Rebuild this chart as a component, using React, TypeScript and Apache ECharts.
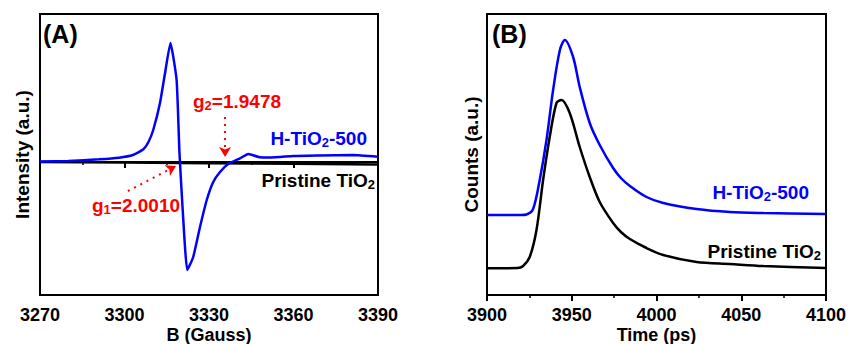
import React, { useEffect, useRef } from "react";
import * as echarts from "echarts";

// Panel A: EPR spectra
const eprField = [3270, 3280, 3291, 3298, 3303, 3306.7, 3308.5, 3310.2, 3312.6, 3314.4, 3316.3, 3318.5, 3319.5, 3320.6, 3322.3, 3324.4, 3326.8, 3329.2, 3331.5, 3333.9, 3336.8, 3341, 3344, 3348, 3352, 3360, 3369, 3381, 3390];
const eprH = [0.5, 1, 2.7, 4.3, 7, 12.7, 20, 32, 59, 89, 119, 82, 10, -45, -108, -95, -65, -38, -20, -10, -2, 3.7, 8, 4.7, 4.5, 6, 6.5, 7, 5.3];
const eprPristineField = [3270, 3300, 3330, 3360, 3390];
const eprPristine = [0, -0.6, -1.2, -1.8, -2.4];

// Panel B: time-resolved PL decay
const plTimeH = [3900, 3920, 3923.3, 3927.2, 3931.1, 3935.1, 3939, 3943, 3945.9, 3950.8, 3954.7, 3960.6, 3966.5, 3974.4, 3979, 3984.3, 3994.1, 4004, 4023.6, 4043.3, 4063, 4100];
const plH = [80, 80, 80.5, 86, 115, 155, 205, 245, 255, 238, 208, 172, 150, 127, 117, 109, 98, 92, 86, 83, 82, 81];
const plTimeP = [3900, 3918, 3921.3, 3925.2, 3929.2, 3933.1, 3937, 3941, 3943.9, 3948.8, 3954.7, 3960.6, 3966.5, 3974.4, 3979, 3984.3, 3994.1, 4004, 4023.6, 4043.3, 4063, 4100];
const plP = [26.7, 27, 29, 38, 65, 115, 158, 192, 195, 182, 148, 118, 93, 72, 63, 56, 47, 40, 33, 31, 29, 27];

const FONT = "'Liberation Sans', Arial, sans-serif";

const zip = (xs: number[], ys: number[]) => xs.map((x, i) => [x, ys[i]]);

const rich = (color: string) => ({
  b: { fontSize: 19, fontWeight: "bold", fontFamily: FONT, fill: color, color, lineHeight: 22 },
  s: { fontSize: 13, fontWeight: "bold", fontFamily: FONT, fill: color, color, lineHeight: 14, verticalAlign: "bottom" },
  sub: { fontSize: 13, fontWeight: "bold", fontFamily: FONT, fill: color, color, lineHeight: 8, verticalAlign: "bottom" },
});

const label = (x: number, y: number, text: string, color: string, align = "left") => ({
  type: "text",
  x,
  y,
  style: {
    text,
    rich: rich(color),
    fill: color,
    align,
    verticalAlign: "middle",
    font: `bold 19px ${FONT}`,
  },
});

const xAxisCommon = {
  type: "value",
  nameLocation: "middle",
  nameGap: 31,
  nameMoveOverlap: false,
  nameTextStyle: { fontSize: 18, fontWeight: "bold", fontFamily: FONT, color: "#000" },
  axisLine: { show: true, lineStyle: { color: "#000", width: 2 } },
  axisTick: { show: true, inside: false, length: 6, lineStyle: { color: "#000", width: 2 } },
  minorTick: { show: true, splitNumber: 2, length: 3, lineStyle: { color: "#000", width: 1.5 } },
  axisLabel: { fontSize: 18, fontWeight: "bold", fontFamily: FONT, color: "#000", margin: 11, formatter: (v: number) => String(v) },
  splitLine: { show: false },
};

const yAxisCommon = {
  type: "value",
  nameLocation: "middle",
  nameMoveOverlap: false,
  nameTextStyle: { fontSize: 19, fontWeight: "bold", fontFamily: FONT, color: "#000" },
  axisLine: { show: false },
  axisTick: { show: false },
  axisLabel: { show: false },
  splitLine: { show: false },
};

const gridCommon = {
  top: 14,
  bottom: 49,
  show: true,
  borderColor: "#000",
  borderWidth: 2,
  backgroundColor: "transparent",
  containLabel: false,
  outerBoundsMode: "none",
};

export default function App() {
  const ref = useRef<HTMLDivElement>(null);
  useEffect(() => {
    if (!ref.current) return;
    const chart = echarts.init(ref.current, null, { renderer: "svg" });
    chart.setOption({
      animation: false,
      backgroundColor: "#fff",
      grid: [
        { ...gridCommon, left: 40, right: 470 },
        { ...gridCommon, left: 487, right: 22 },
      ],
      xAxis: [
        { ...xAxisCommon, gridIndex: 0, min: 3270, max: 3390, interval: 30, name: "B (Gauss)" },
        { ...xAxisCommon, gridIndex: 1, min: 3900, max: 4100, interval: 50, name: "Time (ps)" },
      ],
      yAxis: [
        { ...yAxisCommon, gridIndex: 0, min: -133, max: 148, name: "Intensity (a.u.)", nameGap: 8 },
        { ...yAxisCommon, gridIndex: 1, min: 0, max: 281, name: "Counts (a.u.)", nameGap: 6 },
      ],
      series: [
        {
          type: "line",
          name: "Pristine TiO2 EPR",
          xAxisIndex: 0,
          yAxisIndex: 0,
          data: zip(eprPristineField, eprPristine),
          showSymbol: false,
          lineStyle: { color: "#000", width: 2.5 },
          z: 2,
        },
        {
          type: "line",
          name: "H-TiO2-500 EPR",
          xAxisIndex: 0,
          yAxisIndex: 0,
          data: zip(eprField, eprH),
          showSymbol: false,
          smooth: 0.15,
          lineStyle: { color: "#0000FF", width: 2.5 },
          z: 3,
          markLine: {
            silent: true,
            symbol: ["none", "arrow"],
            symbolSize: [9, 10],
            label: { show: false },
            lineStyle: { color: "#FF0000", type: [2, 5], width: 2 },
            data: [
              [{ coord: [3335.7, 45] }, { coord: [3335.7, 5] }],
              [{ coord: [3301.2, -29] }, { coord: [3318.3, -4] }],
            ],
          },
        },
        {
          type: "line",
          name: "Pristine TiO2 PL",
          xAxisIndex: 1,
          yAxisIndex: 1,
          data: zip(plTimeP, plP),
          showSymbol: false,
          smooth: 0.3,
          lineStyle: { color: "#000", width: 2.5 },
        },
        {
          type: "line",
          name: "H-TiO2-500 PL",
          xAxisIndex: 1,
          yAxisIndex: 1,
          data: zip(plTimeH, plH),
          showSymbol: false,
          smooth: 0.3,
          lineStyle: { color: "#0000FF", width: 2.5 },
        },
      ],
      graphic: [
        { type: "text", x: 43, y: 34, style: { text: "(A)", font: `bold 25px ${FONT}`, fill: "#000", align: "left", verticalAlign: "middle" } },
        { type: "text", x: 492, y: 34, style: { text: "(B)", font: `bold 25px ${FONT}`, fill: "#000", align: "left", verticalAlign: "middle" } },
        label(193, 101, "{b|g}{sub|2}{b|=1.9478}", "#FF0000"),
        label(92, 205, "{b|g}{sub|1}{b|=2.0010}", "#FF0000"),
        label(367, 138, "{b|H-TiO}{s|2}{b|-500}", "#0000FF", "right"),
        label(375, 180, "{b|Pristine TiO}{s|2}", "#000000", "right"),
        label(809, 192, "{b|H-TiO}{s|2}{b|-500}", "#0000FF", "right"),
        label(821, 251, "{b|Pristine TiO}{s|2}", "#000000", "right"),
      ],
    });
    return () => chart.dispose();
  }, []);
  return <div ref={ref} style={{ width: 848, height: 344, position: "absolute", left: 0, top: 0 }} />;
}
